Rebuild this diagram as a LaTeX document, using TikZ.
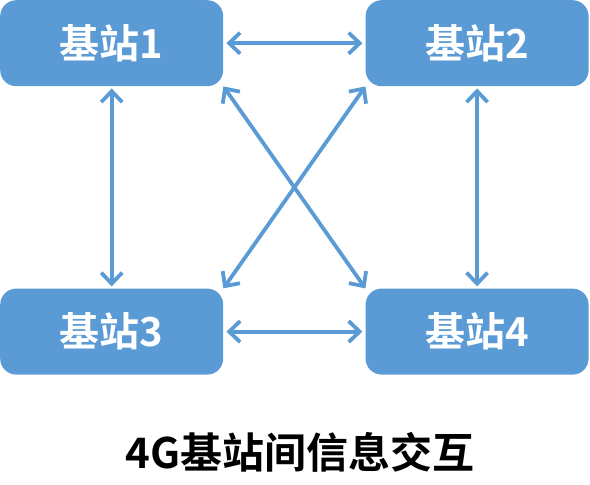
\documentclass[tikz,border=0pt]{standalone}
\usepackage{fontspec}
\newfontfamily\cjk{Noto Sans CJK SC Bold}
\usetikzlibrary{arrows.meta}
\usetikzlibrary{positioning}
\definecolor{stblue}{HTML}{5B9BD5}

\begin{document}
\begin{tikzpicture}[x=1pt, y=-1pt,
        station/.style={rectangle, rounded corners=16pt, fill=stblue, draw=none,
            minimum width=223pt, minimum height=86pt, inner sep=0pt,
            text=white, font=\cjk\fontsize{40}{44}\selectfont},
        link/.style={stblue, line width=3.8pt, {Straight Barb[length=11pt, width=21pt]}-{Straight Barb[length=11pt, width=21pt]}}]
        \useasboundingbox (0,0) rectangle (590,485);
        \node[station, anchor=north west] (b1) at (0,0) {基站1};
        \node[station, right=142pt of b1] (b2) {基站2};
        \node[station, below=202pt of b1] (b3) {基站3};
        \node[station, right=142pt of b3] (b4) {基站4};
        % links between stations
        \draw[link, shorten <=3pt, shorten >=3pt] (b1) -- (b2);
        \draw[link, shorten <=3pt, shorten >=3pt] (b3) -- (b4);
        \draw[link, shorten <=2pt, shorten >=2pt] (b1) -- (b3);
        \draw[link, shorten <=2pt, shorten >=2pt] (b2) -- (b4);
        \draw[link] (b1.south east) -- (b4.north west);
        \draw[link] (b2.south west) -- (b3.north east);
        \node[font=\cjk\fontsize{42}{46}\selectfont] (title) at (300,452) {4G基站间信息交互};
    \end{tikzpicture}
\end{document}
